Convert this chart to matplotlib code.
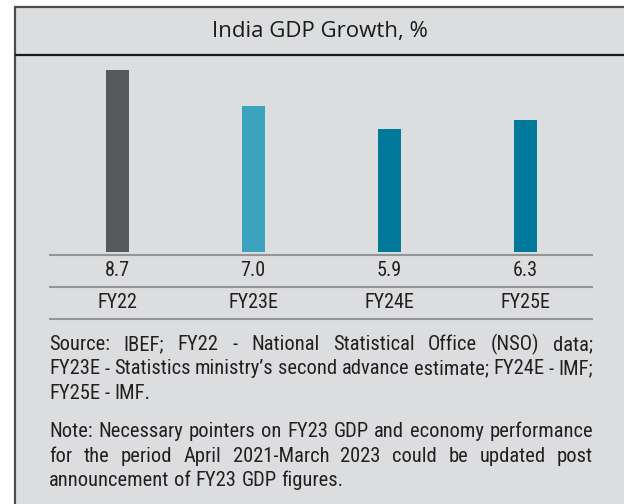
import matplotlib
matplotlib.use("Agg")
import matplotlib.pyplot as plt
from matplotlib import font_manager as fm
import matplotlib.transforms as mtransforms

categories = ["FY22", "FY23E", "FY24E", "FY25E"]
values = [8.7, 7.0, 5.9, 6.3]
value_labels = ["8.7", "7.0", "5.9", "6.3"]
bar_colors = ["#58595b", "#3ba3be", "#00799a", "#00799a"]
title = "India GDP Growth, %"
source_lines = [
    "Source: IBEF; FY22 - National Statistical Office (NSO) data;",
    "FY23E - Statistics ministry\u2019s second advance estimate; FY24E - IMF;",
    "FY25E - IMF.",
]
note_lines = [
    "Note: Necessary pointers on FY23 GDP and economy performance",
    "for the period April 2021-March 2023 could be updated post",
    "announcement of FY23 GDP figures.",
]

names = {f.name for f in fm.fontManager.ttflist}
narrow = next((n for n in ["Roboto Condensed", "Archivo Narrow", "PT Sans Narrow",
                           "Liberation Sans Narrow", "Liberation Sans"] if n in names), "DejaVu Sans")
title_font = "Open Sans" if "Open Sans" in names else "DejaVu Sans"

W, H = 624, 504
fig = plt.figure(figsize=(W / 100, H / 100), dpi=100)
fig.patch.set_facecolor("white")

# overlay axes in pixel coordinates
ov = fig.add_axes([0, 0, 1, 1])
ov.set_xlim(0, W)
ov.set_ylim(H, 0)
ov.axis("off")
bg = "#dcdddf"
ov.add_patch(plt.Rectangle((15, 6), W - 15, H - 6, facecolor=bg, edgecolor="none"))
ov.plot([14.5, 14.5], [6, H], color="#4d4d4f", lw=1.6, solid_capstyle="butt")
ov.plot([14, W], [6.5, 6.5], color="#4d4d4f", lw=1.6, solid_capstyle="butt")
ov.plot([15, W], [54.5, 54.5], color="#1a1a1a", lw=1.6, solid_capstyle="butt")
for yy in [255, 287, 319]:
    ov.plot([49, 593], [yy, yy], color="#939598", lw=1.5, solid_capstyle="butt")
ov.text(320, 31, title, ha="center", va="center", fontsize=16,
        family=title_font, color="#1a1a1a")

# bar axes
x0, x1 = 49, 593
base, top = 252, 60
pxu = (base - 70) / 8.7
ax = fig.add_axes([x0 / W, (H - base) / H, (x1 - x0) / W, (base - top) / H])
ax.set_xlim(-0.5, len(categories) - 0.5)
ax.set_ylim(0, (base - top) / pxu)
ax.axis("off")
xs = list(range(len(categories)))
ax.bar(xs, values, width=23 / 136, color=bar_colors)

trans = mtransforms.blended_transform_factory(ax.transData, ov.transData)
for i in xs:
    ax.text(i, 271, value_labels[i], transform=trans, ha="center", va="center",
            fontsize=14.5, family=narrow, color="#231f20")
    ax.text(i, 303, categories[i], transform=trans, ha="center", va="center",
            fontsize=14.5, family=narrow, color="#231f20")

# justified paragraphs
fig.canvas.draw()
renderer = fig.canvas.get_renderer()


def text_w(s, fs):
    t = ov.text(0, 0, s, fontsize=fs, family=narrow)
    w = t.get_window_extent(renderer).width
    t.remove()
    return w


# size the body so the longest (naturally full) line fills the column
fs_body = 13.0 * (x1 - x0) * 0.995 / text_w(source_lines[1], 13.0)


def draw_par(lines, y_start, spacing):
    space = text_w("a a", fs_body) - text_w("aa", fs_body)
    for li, line in enumerate(lines):
        y = y_start + li * spacing
        words = line.split(" ")
        last = li == len(lines) - 1
        texts = []
        widths = []
        for w in words:
            t = ov.text(0, y, w, ha="left", va="baseline", fontsize=fs_body,
                        family=narrow, color="#231f20")
            texts.append(t)
            widths.append(t.get_window_extent(renderer).width)
        if last or len(words) == 1:
            gap = space
        else:
            gap = (x1 - x0 - sum(widths)) / (len(words) - 1)
        x = x0
        for t, wd in zip(texts, widths):
            t.set_x(x)
            x += wd + gap


draw_par(source_lines, 350, 24.5)
draw_par(note_lines, 437, 24.5)

fig.savefig("out.png", dpi=100, facecolor=fig.get_facecolor())
